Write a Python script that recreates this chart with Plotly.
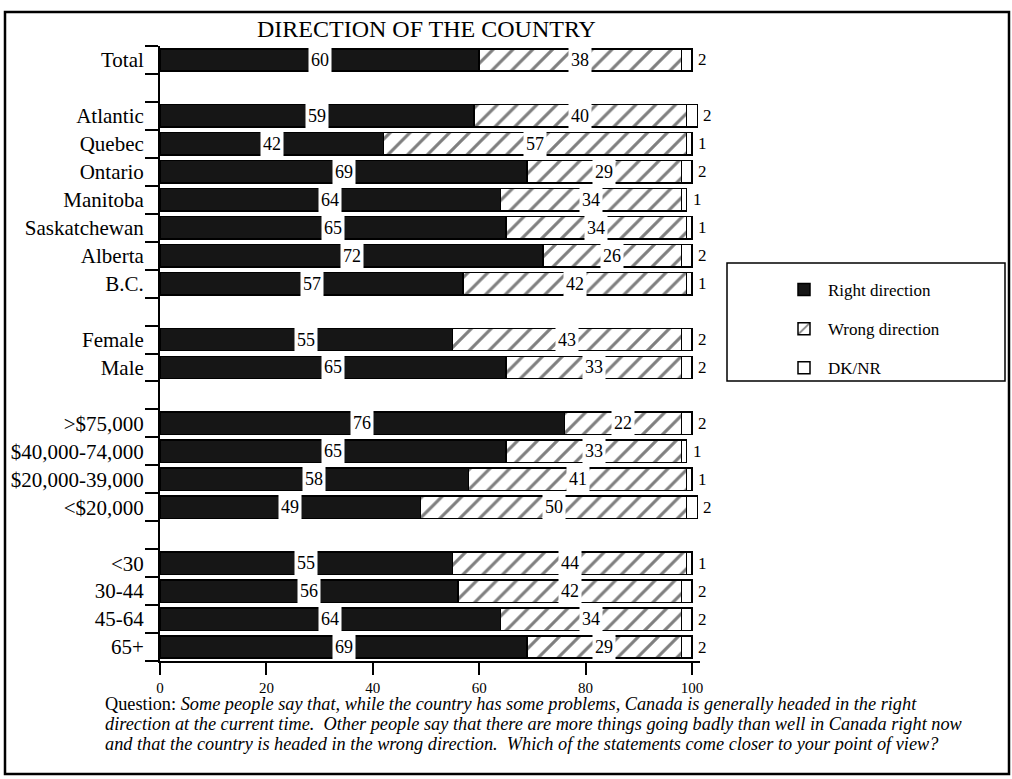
import plotly.graph_objects as go

# Survey breakdown: share saying the country is heading in the right / wrong direction
categories = ["Total",
              "Atlantic", "Quebec", "Ontario", "Manitoba", "Saskatchewan", "Alberta", "B.C.",
              "Female", "Male",
              ">$75,000", "$40,000-74,000", "$20,000-39,000", "<$20,000",
              "<30", "30-44", "45-64", "65+"]
group_sizes = [1, 7, 2, 4, 4]
right_dir = [60, 59, 42, 69, 64, 65, 72, 57, 55, 65, 76, 65, 58, 49, 55, 56, 64, 69]
wrong_dir = [38, 40, 57, 29, 34, 34, 26, 42, 43, 33, 22, 33, 41, 50, 44, 42, 34, 29]
dk_nr = [2, 2, 1, 2, 1, 1, 2, 1, 2, 2, 2, 1, 1, 2, 1, 2, 2, 2]
x_ticks = [0, 20, 40, 60, 80, 100]

title = "DIRECTION OF THE COUNTRY"
question_lines = [
    "Question: <i>Some people say that, while the country has some problems, Canada is generally headed in the right</i>",
    "<i>direction at the current time.  Other people say that there are more things going badly than well in Canada right now</i>",
    "<i>and that the country is headed in the wrong direction.  Which of the statements come closer to your point of view?</i>",
]

SERIF = "Liberation Serif, Times New Roman, serif"
W, H = 1012, 779
X_MAX = 101.5          # a little room past 100 for rows that sum to 101
PX_PER_UNIT = 5.32     # horizontal scale of the value axis

# row slots: one blank row between groups
slots = []
pos = 0
for n in group_sizes:
    for _ in range(n):
        slots.append(pos)
        pos += 1
    pos += 1
last_slot = slots[-1]
boundaries = sorted({s - 0.5 for s in slots} | {s + 0.5 for s in slots})
tick_text = [c.replace("<", "&lt;") for c in categories]

fig = go.Figure()
common = dict(orientation="h", width=0.8, cliponaxis=False, hoverinfo="skip")
fig.add_trace(go.Bar(
    y=slots, x=right_dir, name="Right direction", legendgroup="r",
    marker=dict(color="#161616", line=dict(color="black", width=1.5)), **common))
fig.add_trace(go.Bar(
    y=slots, x=wrong_dir, name="Wrong direction", legendgroup="w",
    marker=dict(color="white", line=dict(color="black", width=1.5),
                pattern=dict(shape="/", fgcolor="black", bgcolor="white",
                             size=14, solidity=0.22)), **common))
fig.add_trace(go.Bar(
    y=slots, x=dk_nr, name="DK/NR", legendgroup="d",
    marker=dict(color="white", line=dict(color="black", width=1.5)), **common))

label_font = dict(family=SERIF, size=18, color="black")
annotations = []
for s, r, w, d in zip(slots, right_dir, wrong_dir, dk_nr):
    annotations.append(dict(x=r / 2, y=s, xref="x", yref="y", text=str(r),
                            showarrow=False, bgcolor="white", borderpad=2,
                            font=label_font))
    annotations.append(dict(x=r + w / 2, y=s, xref="x", yref="y", text=str(w),
                            showarrow=False, bgcolor="white", borderpad=2,
                            font=label_font))
    annotations.append(dict(x=r + w + d, y=s, xref="x", yref="y", text=str(d),
                            showarrow=False, xanchor="left", xshift=4,
                            font=dict(family=SERIF, size=17, color="black")))

annotations.append(dict(x=426 / W, y=1 - 29 / H, xref="paper", yref="paper",
                        xanchor="center", yanchor="middle",
                        text=title, showarrow=False,
                        font=dict(family=SERIF, size=24, color="black")))
for i, line in enumerate(question_lines):
    annotations.append(dict(x=103 / W, y=1 - (704 + 20 * i) / H,
                            xref="paper", yref="paper",
                            xanchor="left", yanchor="middle", align="left",
                            text=line, showarrow=False,
                            font=dict(family=SERIF, size=18.3, color="black")))

shapes = [
    # outer frame
    dict(type="rect", xref="paper", yref="paper",
         x0=5 / W, x1=1009 / W, y0=1 - 774 / H, y1=1 - 12 / H,
         line=dict(color="black", width=2.5), fillcolor="rgba(0,0,0,0)", layer="below"),
    # legend box
    dict(type="rect", xref="paper", yref="paper",
         x0=727 / W, x1=1005 / W, y0=1 - 381 / H, y1=1 - 263 / H,
         line=dict(color="black", width=1.5), fillcolor="white", layer="below"),
]

fig.update_layout(
    width=W, height=H,
    margin=dict(l=0, r=0, t=0, b=0),
    paper_bgcolor="white", plot_bgcolor="white",
    barmode="stack", bargap=0.2,
    font=dict(family=SERIF, color="black"),
    showlegend=True,
    legend=dict(x=780 / W, y=1 - 272 / H, xanchor="left", yanchor="top",
                traceorder="grouped", tracegroupgap=14, itemwidth=38,
                bgcolor="rgba(0,0,0,0)", borderwidth=0,
                font=dict(family=SERIF, size=17, color="black")),
    xaxis=dict(domain=[160 / W, (160 + PX_PER_UNIT * X_MAX) / W], range=[0, X_MAX],
               tickvals=x_ticks, ticks="outside", ticklen=12, tickwidth=2,
               tickcolor="black", showline=True, linecolor="black", linewidth=2,
               showgrid=False, zeroline=False, automargin=False,
               tickfont=dict(family=SERIF, size=15, color="black")),
    yaxis=dict(domain=[1 - 661 / H, 1 - 46 / H],
               range=[last_slot + 0.5, -0.5],
               tickvals=slots, ticktext=tick_text, ticks="",
               ticklabelstandoff=10,
               minor=dict(tickvals=boundaries, ticks="outside", ticklen=13,
                          tickwidth=2, tickcolor="black", showgrid=False),
               showline=True, linecolor="black", linewidth=2,
               showgrid=False, zeroline=False, automargin=False,
               tickfont=dict(family=SERIF, size=21, color="black")),
    annotations=annotations,
    shapes=shapes,
)

fig.write_html("out.html")
